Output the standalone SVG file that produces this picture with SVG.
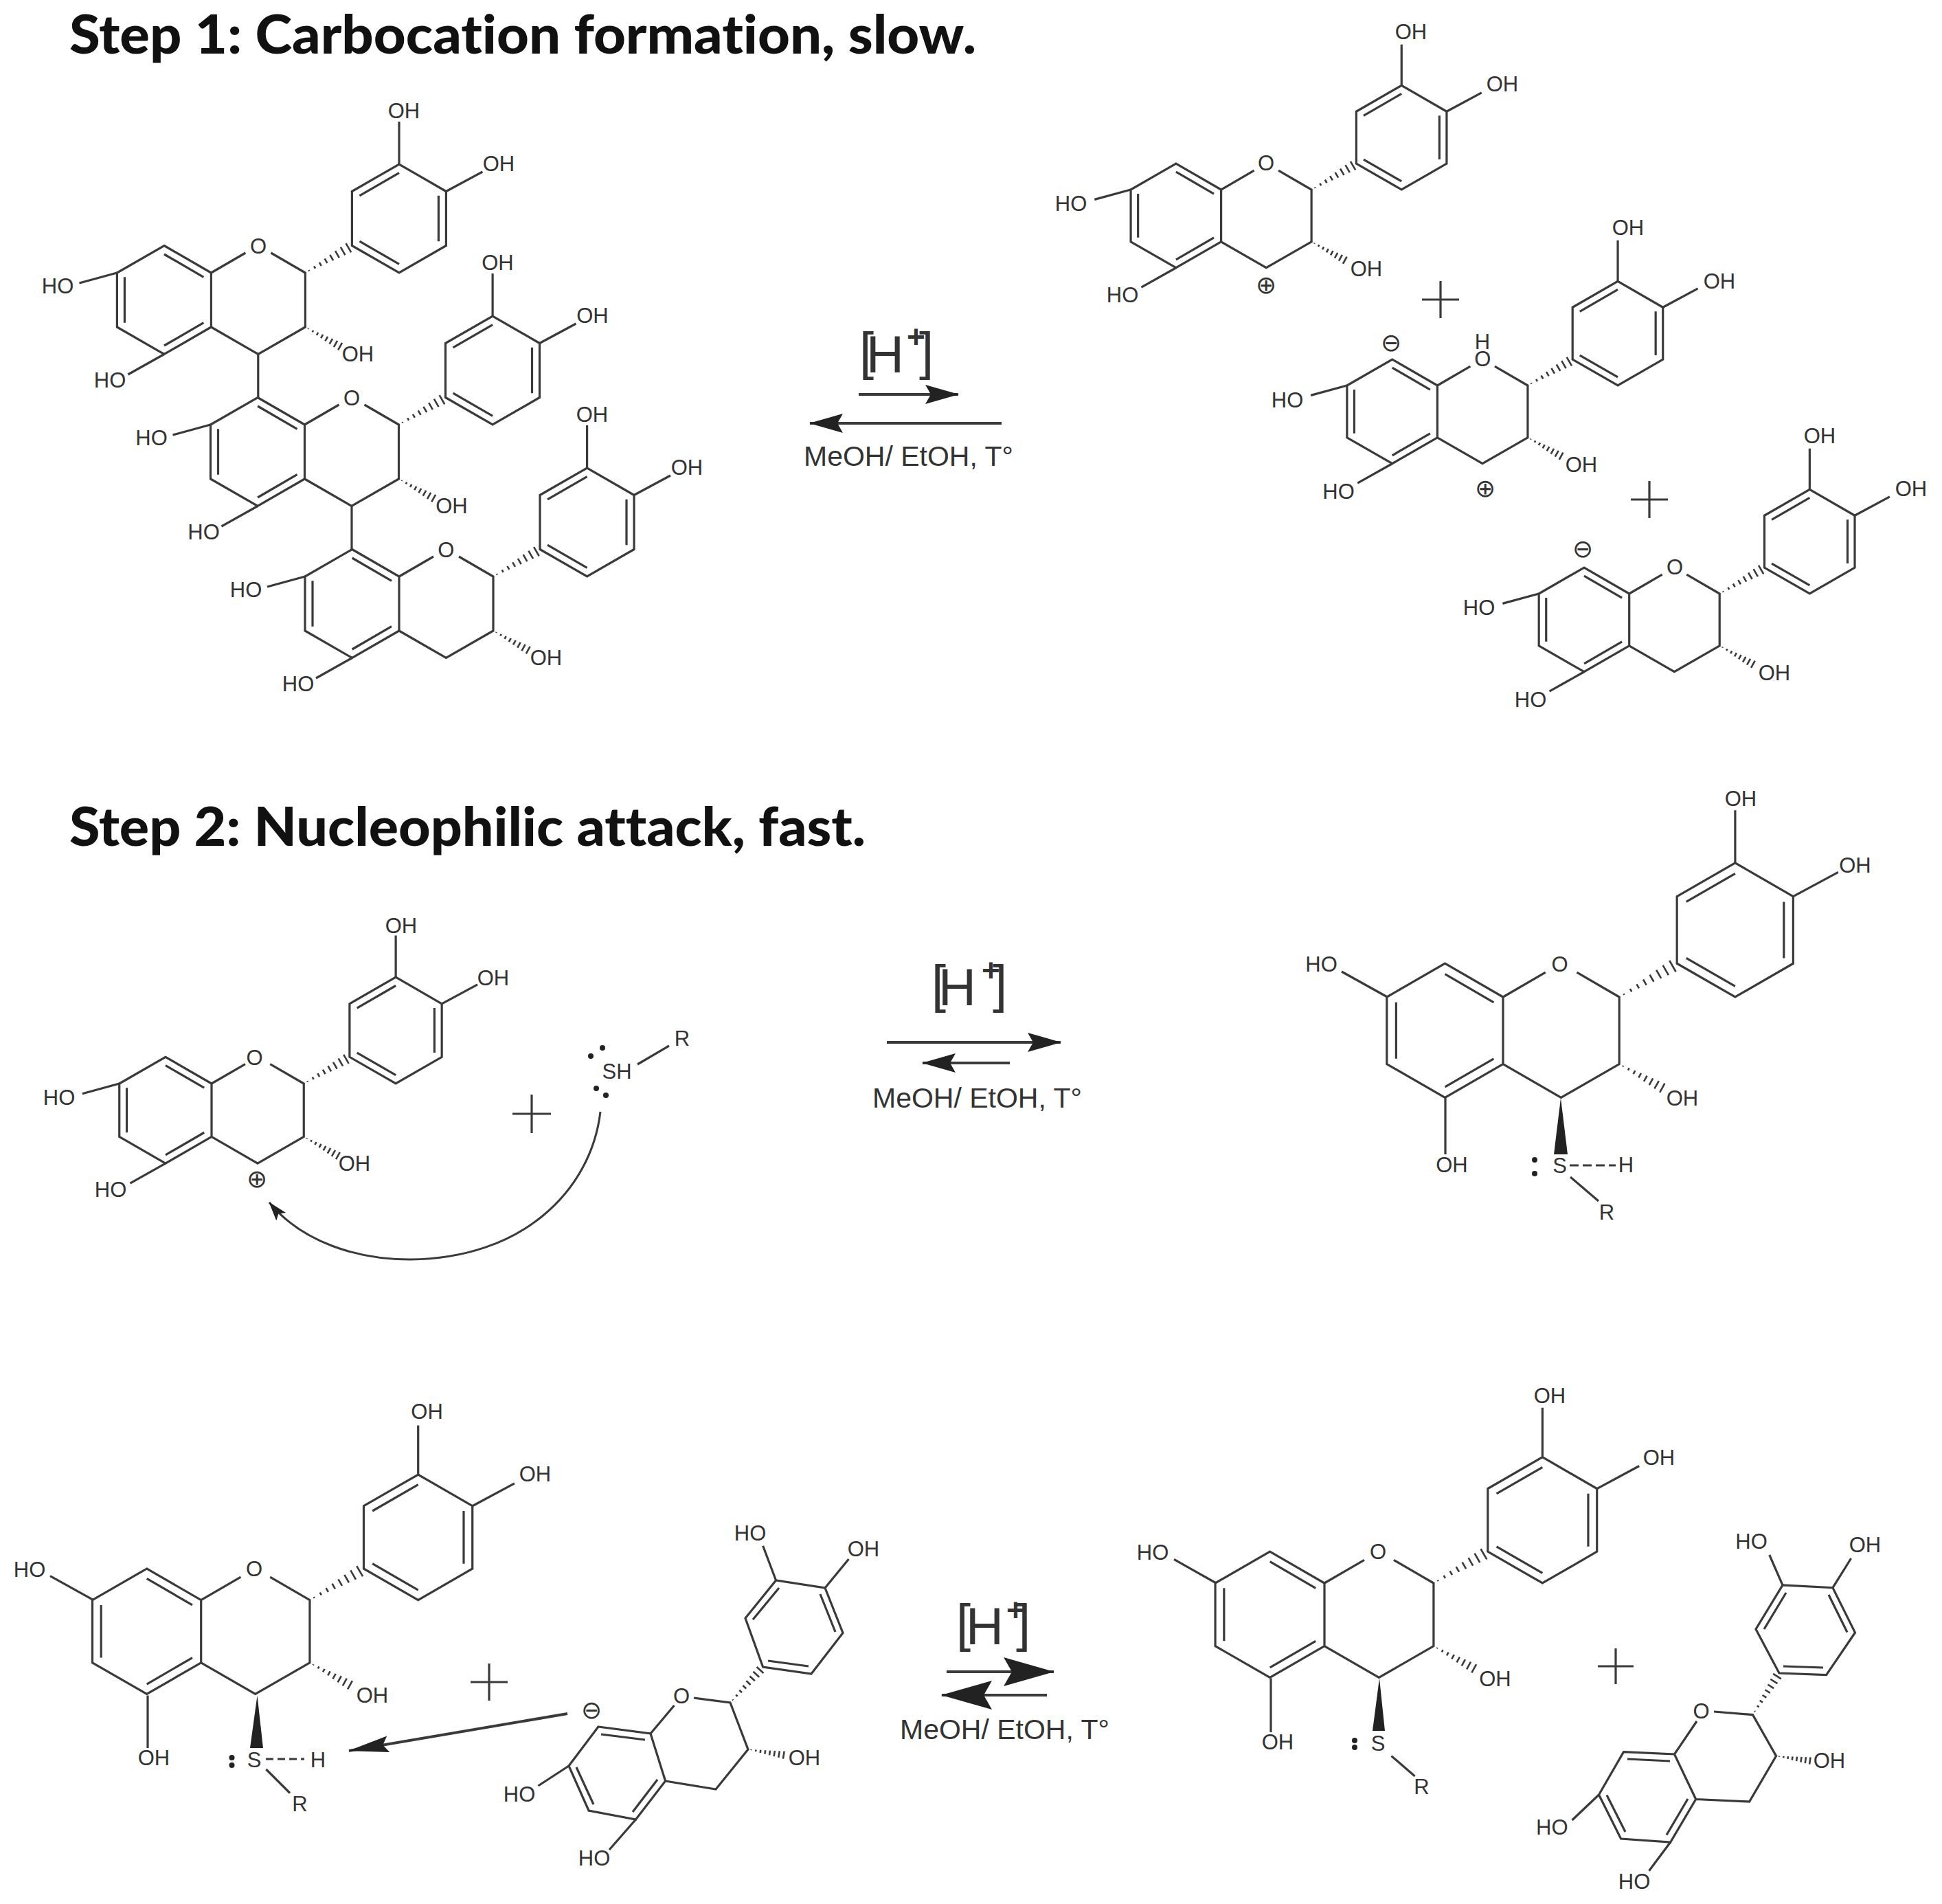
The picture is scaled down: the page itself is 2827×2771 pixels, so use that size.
<svg xmlns="http://www.w3.org/2000/svg" width="2827" height="2771" viewBox="0 0 2827 2771">
<style>
text{font-family:"Liberation Sans",Arial,sans-serif;fill:#333}
.t{font-family:Lato,"Liberation Sans",sans-serif;font-weight:900;font-size:78px;fill:#111;font-variant-ligatures:none}
.l{font-size:31px;text-anchor:middle}
.c{font-family:"DejaVu Sans",sans-serif;font-size:36px;text-anchor:middle}
.r{font-size:41px}
.h{font-size:76px}
.s{font-size:46px;font-weight:700}
.b,.b path{fill:none;stroke:#3a3a3a;stroke-width:3.2;vector-effect:non-scaling-stroke}
.n{fill:#222;stroke:none}
.a{fill:none;stroke:#3a3a3a;stroke-width:4}
.p{fill:none;stroke:#3a3a3a;stroke-width:3.2}
</style>
<defs>
<g id="hash" class="b"><path style="stroke-width:2.6" d="M8 -1V1M20 -2.4V2.4M32 -3.6V3.6M44 -4.8V4.8M56 -6V6M68 -7.2V7.2M80 -8.4V8.4M92 -9.6V9.6"/></g>
<g id="rings" class="b">
<path d="M-68.4 -39.5L0 0V79L-68.4 118.5L-137 79V0ZM0 0L50 -29M87 -29L137 0V79L68.4 118.5L0 79M205 -39.5V-118.5L273.6 -158L342 -118.5V-39.5L273.6 0Z"/>
<path d="M-68.4 -27L-11 6.3M-126 6.3V72.7M-68.4 106L-11 72.7M216 -45.8L273.6 -12.6M331 -112.2V-45.8M273.6 -145.4L216 -112.2"/>
<path d="M273.6 -158V-220M342 -118.5L395 -147"/>
<use href="#hash" transform="translate(137,0) rotate(-30) scale(.79)"/>
<use href="#hash" transform="translate(137,79) rotate(29) scale(.63)"/>
</g>
<g id="sub" class="b"><path d="M-137 0L-192 15M-68.4 118.5L-121 148"/></g>
<marker id="m1" markerUnits="userSpaceOnUse" markerWidth="50" markerHeight="30" refX="48" refY="15" orient="auto"><path class="n" d="M0 1L49 15L0 29L8 15Z"/></marker>
<marker id="m2" markerUnits="userSpaceOnUse" markerWidth="75" markerHeight="44" refX="73" refY="22" orient="auto"><path class="n" d="M0 1L74 22L0 43L12 22Z"/></marker>
<marker id="m3" markerUnits="userSpaceOnUse" markerWidth="30" markerHeight="20" refX="27" refY="10" orient="auto"><path class="n" d="M0 1L28 10L0 19L6 10Z"/></marker>
<marker id="m4" markerUnits="userSpaceOnUse" markerWidth="60" markerHeight="30" refX="58" refY="15" orient="auto"><path class="n" d="M0 3L59 15L0 27L8 15Z"/></marker>
</defs>

<g id="title-1"><text class="t" x="101" y="78" textLength="1320" lengthAdjust="spacingAndGlyphs">Step 1: Carbocation formation, slow.</text></g>
<g id="title-2"><text class="t" x="101" y="1231" textLength="1159" lengthAdjust="spacingAndGlyphs">Step 2: Nucleophilic attack, fast.</text></g>

<g id="connectors">
<path class="a" d="M1250 574H1395" marker-end="url(#m1)"/>
<path class="a" d="M1458 616H1179" marker-end="url(#m1)"/>
<path class="a" d="M1291 1517H1544" marker-end="url(#m1)"/>
<path class="a" d="M1470 1547H1343" marker-end="url(#m1)"/>
<path class="a" d="M1378 2433H1534" marker-end="url(#m2)"/>
<path class="a" d="M1524 2467H1371" marker-end="url(#m2)"/>
<path class="a" style="stroke-width:3" d="M874 1618C860 1735 758 1832 597 1833C520 1833 440 1808 392 1750" marker-end="url(#m3)"/>
<path class="a" d="M826 2494L508 2548" marker-end="url(#m4)"/>
</g>

<g id="reagent-1"><text class="h"><tspan x="1251" y="537">[</tspan><tspan x="1261" y="542">H</tspan><tspan class="s" x="1320" y="506">+</tspan><tspan x="1338" y="537">]</tspan></text><text class="r" x="1170" y="678">MeOH/ EtOH, T°</text></g>
<g id="reagent-2"><text class="h"><tspan x="1356" y="1458">[</tspan><tspan x="1366" y="1463">H</tspan><tspan class="s" x="1429" y="1428">+</tspan><tspan x="1445" y="1458">]</tspan></text><text class="r" x="1270" y="1612">MeOH/ EtOH, T°</text></g>
<g id="reagent-3"><text class="h"><tspan x="1392" y="2388">[</tspan><tspan x="1406" y="2393">H</tspan><tspan class="s" x="1465" y="2359">+</tspan><tspan x="1479" y="2388">]</tspan></text><text class="r" x="1310" y="2531">MeOH/ EtOH, T°</text></g>

<g id="trimer-unit-1"><use href="#rings" transform="translate(307.4,397)"/><use href="#sub" transform="translate(307.4,397)"/>
<path class="p" d="M375.8 515.5V578.5"/>
<text class="l" x="376" y="368.5">O</text><text class="l" x="588" y="172">OH</text><text class="l" x="726" y="249">OH</text><text class="l" x="84" y="427">HO</text><text class="l" x="160" y="564">HO</text><text class="l" x="521" y="526">OH</text></g>
<g id="trimer-unit-2"><use href="#rings" transform="translate(443.5,618)"/><use href="#sub" transform="translate(443.5,618)"/>
<path class="p" d="M512 736.5V799.5"/>
<text class="l" x="512" y="589.5">O</text><text class="l" x="724.5" y="393">OH</text><text class="l" x="862.5" y="470">OH</text><text class="l" x="220.5" y="648">HO</text><text class="l" x="296.5" y="785">HO</text><text class="l" x="657.5" y="747">OH</text></g>
<g id="trimer-unit-3"><use href="#rings" transform="translate(581,839)"/><use href="#sub" transform="translate(581,839)"/>
<text class="l" x="649.4" y="810.5">O</text><text class="l" x="862" y="614">OH</text><text class="l" x="1000" y="691">OH</text><text class="l" x="358" y="869">HO</text><text class="l" x="434" y="1006">HO</text><text class="l" x="795" y="968">OH</text></g>

<g id="monomer-a"><use href="#rings" transform="translate(1777.6,276) scale(.96)"/><use href="#sub" transform="translate(1777.6,276) scale(.96)"/>
<text class="l" x="1843" y="247.6">O</text><text class="l" x="2054" y="57">OH</text><text class="l" x="2187" y="133">OH</text><text class="l" x="1559" y="306.5">HO</text><text class="l" x="1634" y="440">HO</text><text class="l" x="1989" y="402">OH</text><text class="c" x="1843" y="427">⊕</text></g>
<g id="plus-1"><path class="p" d="M2070 436H2124M2097 409V463"/></g>
<g id="monomer-b"><use href="#rings" transform="translate(2092.4,561) scale(.96)"/><use href="#sub" transform="translate(2092.4,561) scale(.96)"/>
<text class="l" x="2158.4" y="533">O</text><text class="l" x="2158" y="508">H</text><text class="l" x="2370" y="342">OH</text><text class="l" x="2503" y="420">OH</text><text class="l" x="1874" y="592.5">HO</text><text class="l" x="1948.5" y="726">HO</text><text class="l" x="2302" y="687">OH</text><text class="c" x="2025" y="511">⊖</text><text class="c" x="2162" y="723">⊕</text></g>
<g id="plus-2"><path class="p" d="M2374 727H2428M2401 700V754"/></g>
<g id="monomer-c"><use href="#rings" transform="translate(2371.7,864) scale(.96)"/><use href="#sub" transform="translate(2371.7,864) scale(.96)"/>
<text class="l" x="2438" y="836">O</text><text class="l" x="2649" y="645">OH</text><text class="l" x="2782" y="722">OH</text><text class="l" x="2153" y="895">HO</text><text class="l" x="2228" y="1028.6">HO</text><text class="l" x="2583" y="990">OH</text><text class="c" x="2304" y="811">⊖</text></g>

<g id="monomer-d"><use href="#rings" transform="translate(308,1577) scale(.98)"/><use href="#sub" transform="translate(308,1577) scale(.98)"/>
<text class="l" x="370.5" y="1550">O</text><text class="l" x="584" y="1358">OH</text><text class="l" x="718" y="1434">OH</text><text class="l" x="86" y="1608">HO</text><text class="l" x="161" y="1742">HO</text><text class="l" x="516" y="1704">OH</text><text class="c" x="374" y="1728">⊕</text></g>
<g id="plus-3"><path class="p" d="M746 1621H802M774 1593V1649"/></g>
<g id="thiol-1"><path class="p" d="M928 1549L974 1522"/><text class="l" x="898" y="1570">SH</text><text class="l" x="993" y="1522">R</text>
<circle class="n" cx="877" cy="1525" r="4"/><circle class="n" cx="860" cy="1537" r="4"/><circle class="n" cx="868" cy="1584" r="4"/><circle class="n" cx="882" cy="1594" r="4"/></g>

<g id="adduct-e"><use href="#rings" transform="translate(2188,1451) scale(1.235)"/>
<path class="p" d="M2019.5 1451L1953 1414M2104 1598V1680M2286 1713L2327 1748"/>
<path class="p" style="stroke-dasharray:13 6" d="M2285 1696H2352"/>
<polygon class="n" points="2272,1598 2262,1680 2282,1680"/>
<text class="l" x="2270.5" y="1414">O</text><text class="l" x="2534" y="1173">OH</text><text class="l" x="2700.5" y="1269.6">OH</text><text class="l" x="1923.5" y="1414">HO</text><text class="l" x="2113.5" y="1706">OH</text><text class="l" x="2449" y="1609">OH</text><text class="l" x="2270.5" y="1707">S</text><text class="l" x="2367" y="1706">H</text><text class="l" x="2339" y="1775">R</text>
<circle class="n" cx="2234" cy="1688" r="4"/><circle class="n" cx="2234" cy="1708" r="4"/></g>

<g id="adduct-f"><use href="#rings" transform="translate(292.7,2328.6) scale(1.155)"/>
<path class="p" d="M136 2328.6L73 2293.7M215 2467.4V2544M387.4 2575L422 2609.5"/>
<path class="p" style="stroke-dasharray:11 6" d="M387 2560H443"/>
<polygon class="n" points="374.5,2467.4 364,2544 383,2544"/>
<text class="l" x="370" y="2294">O</text><text class="l" x="621.6" y="2065">OH</text><text class="l" x="779" y="2156">OH</text><text class="l" x="43" y="2295">HO</text><text class="l" x="224" y="2569">OH</text><text class="l" x="542" y="2478">OH</text><text class="l" x="370" y="2571.7">S</text><text class="l" x="463" y="2571.7">H</text><text class="l" x="436.5" y="2636">R</text>
<circle class="n" cx="337.5" cy="2558" r="4"/><circle class="n" cx="337.5" cy="2569" r="4"/></g>
<g id="plus-4"><path class="p" d="M685 2448H739M712 2421V2475"/></g>

<g id="monomer-g"><g class="b">
<path d="M871 2513L947 2523L968.6 2592L925.5 2648L857 2635L828 2570ZM947 2523L981.5 2482M1010 2471L1063 2478L1089 2546L1042 2604L968.6 2592M1110.6 2426L1085 2355L1129.6 2300L1201 2311L1227 2376.5L1181 2436Z"/>
<path d="M875 2524L939 2532M839 2572L864 2626M921 2637L957 2590M1134 2311L1096 2357M1194 2320L1216 2375M1177 2425L1118 2417"/>
<path d="M1129.6 2300L1110.6 2249.7M1201 2311L1235.5 2269M828 2570L783.5 2599M925.5 2648L887 2692"/>
<use href="#hash" transform="translate(1063,2478) rotate(-47.5) scale(.7)"/>
<use href="#hash" transform="translate(1089,2546) rotate(9) scale(.57)"/></g>
<text class="l" x="992" y="2479">O</text><text class="l" x="1092" y="2241.5">HO</text><text class="l" x="1257" y="2265.4">OH</text><text class="l" x="756" y="2622">HO</text><text class="l" x="865" y="2715">HO</text><text class="l" x="1171" y="2569">OH</text><text class="c" x="861" y="2501">⊖</text>
</g>

<g id="adduct-i"><use href="#rings" transform="translate(1928,2304) scale(1.16)"/>
<path class="p" d="M1770.4 2304L1709 2269.4M1850 2442.5V2521M2025.5 2555.6L2059.6 2585"/>
<polygon class="n" points="2008,2442.5 1998,2519 2016,2519"/>
<text class="l" x="2006" y="2269">O</text><text class="l" x="2256" y="2041.5">OH</text><text class="l" x="2415" y="2132.4">OH</text><text class="l" x="1678" y="2270">HO</text><text class="l" x="1860" y="2546">OH</text><text class="l" x="2176.5" y="2453.5">OH</text><text class="l" x="2006" y="2548">S</text><text class="l" x="2069.4" y="2611">R</text>
<circle class="n" cx="1972" cy="2533" r="4"/><circle class="n" cx="1972" cy="2543" r="4"/></g>
<g id="plus-5"><path class="p" d="M2326 2425H2378M2352 2399V2451"/></g>

<g id="monomer-h"><g class="b">
<path d="M2363.5 2549.6L2437.5 2553L2468.7 2618.5L2431.7 2681L2359.6 2676L2327.5 2612ZM2437.5 2553L2470 2505M2495 2491L2551.5 2495.6L2585.6 2555.6L2546.6 2622L2468.7 2618.5M2590 2435L2556 2371L2595 2307L2668 2310.7L2700.5 2376L2658.6 2437.6Z"/>
<path d="M2369 2560L2431 2563M2339 2612.5L2366 2666M2426 2670.5L2457 2618M2600 2318L2568 2371M2662 2321L2689 2375.5M2654 2427L2596 2425"/>
<path d="M2595 2307L2575.8 2263M2668 2310.7L2694.6 2268M2327.5 2612L2288.5 2649M2431.7 2681L2400.5 2722.7"/>
<use href="#hash" transform="translate(2551.5,2495.6) rotate(-57.6) scale(.72)"/>
<use href="#hash" transform="translate(2585.6,2555.6) rotate(8) scale(.54)"/></g>
<text class="l" x="2476.5" y="2501">O</text><text class="l" x="2549.5" y="2254.4">HO</text><text class="l" x="2715" y="2259">OH</text><text class="l" x="2259.3" y="2670">HO</text><text class="l" x="2379" y="2748.5">HO</text><text class="l" x="2663" y="2573">OH</text>
</g>
</svg>
